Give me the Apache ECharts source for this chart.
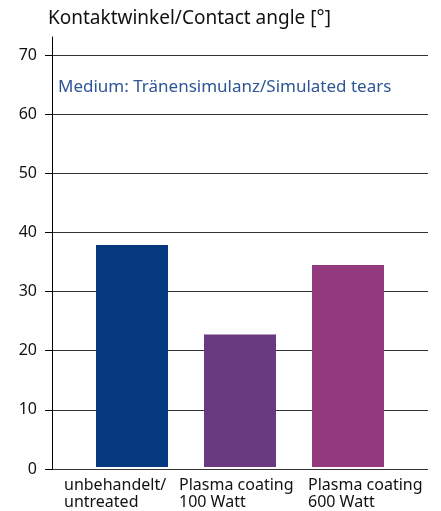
<!DOCTYPE html>
<html>
<head>
<meta charset="utf-8">
<script src="https://cdn.jsdelivr.net/npm/echarts@6/dist/echarts.min.js"></script>
<style>
  html, body { margin: 0; padding: 0; background: #fff; }
  #chart { width: 441px; height: 511px; }
</style>
</head>
<body>
<div id="chart"></div>
<script>
// data
const categories = ['unbehandelt/\nuntreated', 'Plasma coating\n100 Watt', 'Plasma coating\n600 Watt'];
const angles = [37.7, 22.5, 34.3];
const barColors = ['#063a80', '#6a3a80', '#933a7e'];
const yTicks = { min: 0, max: 70, interval: 10 };

// label left shift (labels are left aligned, not centred under the bars)
const labelShift = [-68, -61, -40];

const font = '"Noto Sans", "Open Sans", sans-serif';

let chartDom = document.getElementById('chart');
let myChart = echarts.init(chartDom);
let option;

option = {
    animation: false,
    textStyle: { fontFamily: font },
    title: [
        {
            text: 'Kontaktwinkel/Contact angle [°]',
            left: 48,
            top: 9,
            padding: 0,
            textStyle: { fontSize: 19, fontWeight: 'normal', color: '#111', fontFamily: font }
        },
        {
            text: 'Medium: Tränensimulanz/Simulated tears',
            left: 58,
            top: 79,
            padding: 0,
            textStyle: { fontSize: 17, fontWeight: 'normal', color: '#2d5597', fontFamily: font }
        }
    ],
    grid: [
        // axis line that runs a bit above 70
        { left: 52, right: 13, top: 37, bottom: 42 },
        // ticks, labels, grid lines
        { left: 52, right: 13, top: 55, bottom: 42 },
        // bars
        { left: 78, right: 39, top: 55, bottom: 42 }
    ],
    xAxis: [
        { gridIndex: 0, type: 'value', show: false },
        { gridIndex: 1, type: 'value', show: false },
        {
            gridIndex: 2,
            type: 'category',
            data: categories.map((c, i) => ({
                value: c,
                textStyle: { align: 'left', padding: [0, 0, 0, labelShift[i]], fontSize: 16, lineHeight: 17 }
            })),
            axisLine: { show: false },
            axisTick: { show: false },
            axisLabel: {
                interval: 0,
                hideOverlap: false,
                margin: 10,
                fontSize: 16,
                lineHeight: 17,
                color: '#111',
                fontFamily: font
            }
        }
    ],
    yAxis: [
        {
            gridIndex: 0,
            type: 'value',
            min: 0,
            max: 73,
            axisLine: { show: true, lineStyle: { color: '#000', width: 1 } },
            axisTick: { show: false },
            axisLabel: { show: false },
            splitLine: { show: false }
        },
        {
            gridIndex: 1,
            type: 'value',
            min: yTicks.min,
            max: yTicks.max,
            interval: yTicks.interval,
            axisLine: { show: false },
            axisTick: { show: true, inside: false, length: 7, lineStyle: { color: '#000' } },
            axisLabel: { fontSize: 16, color: '#111', margin: 15, fontFamily: font },
            splitLine: { show: true, lineStyle: { color: '#333', width: 1 } }
        },
        {
            gridIndex: 2,
            type: 'value',
            min: yTicks.min,
            max: yTicks.max,
            show: false
        }
    ],
    series: [
        {
            type: 'bar',
            xAxisIndex: 2,
            yAxisIndex: 2,
            barWidth: 72,
            data: angles.map((v, i) => ({ value: v, itemStyle: { color: barColors[i] } }))
        }
    ]
};

option && myChart.setOption(option);
</script>
</body>
</html>
